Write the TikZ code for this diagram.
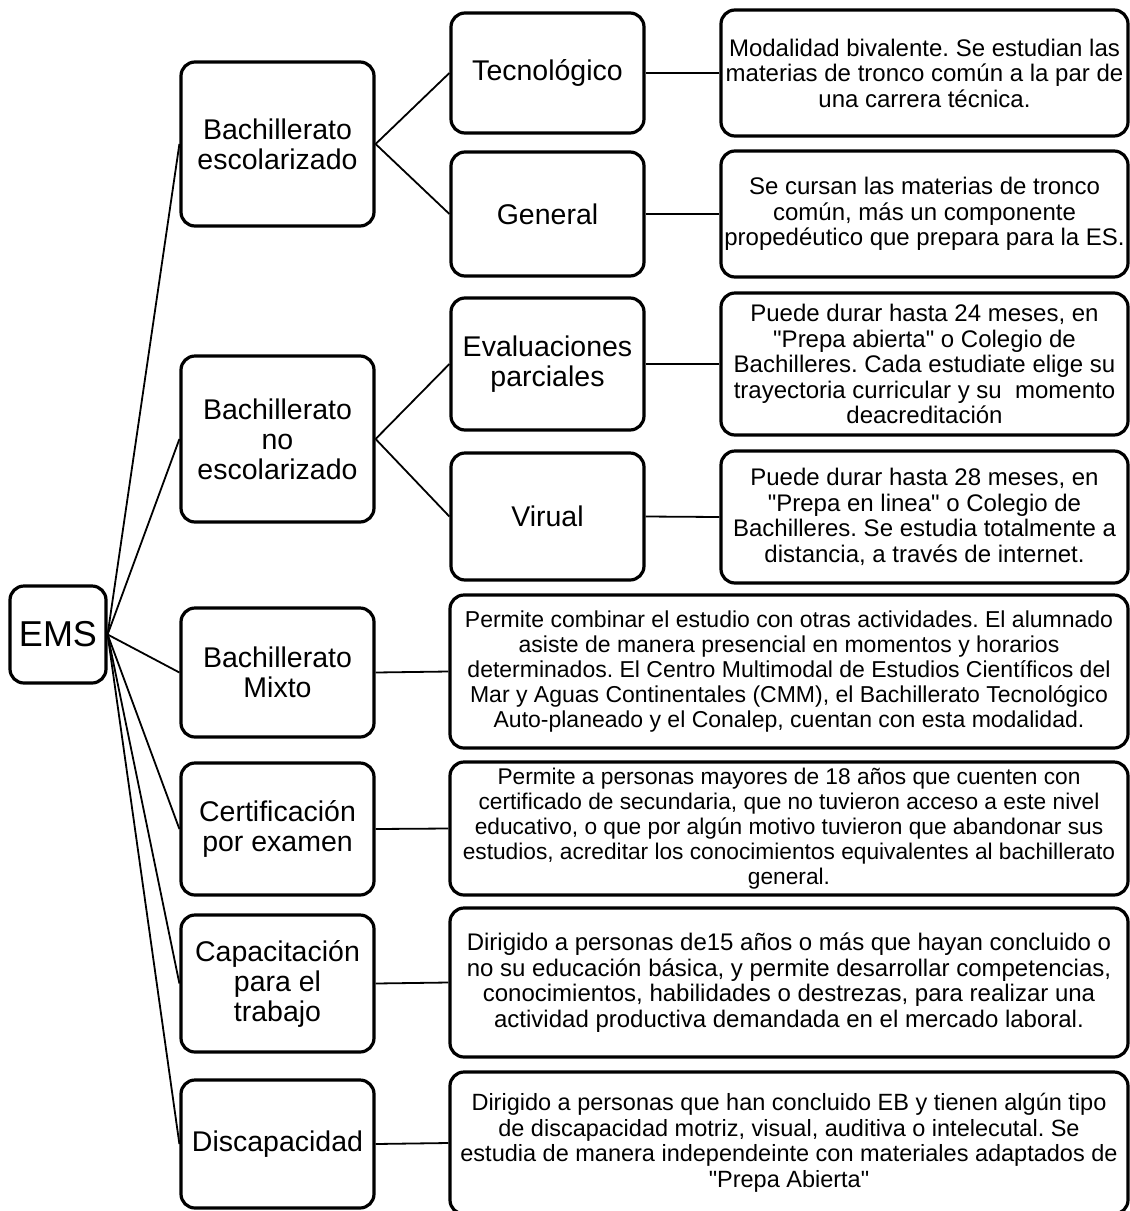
\documentclass[tikz,border=0pt]{standalone}
\usepackage{fontspec}
\setmainfont{Liberation Sans}[Ligatures=TeXOff]
\frenchspacing
\begin{document}
\begin{tikzpicture}[x=1pt,y=-1pt,
  box/.style={draw, line width=3.2pt, rounded corners=14pt, inner sep=0pt, align=center, rectangle},
  lvl/.style={box, minimum width=193pt, font=\fontsize{28.5}{30}\selectfont},
  desctop/.style={box, minimum width=407pt, font=\fontsize{24}{25.5}\selectfont},
  desclow/.style={box, minimum width=678pt, font=\fontsize{24}{25.5}\selectfont},
  link/.style={line width=1.8pt}]
\useasboundingbox (0,0) rectangle (1130,1211);

% root
\node[box, minimum width=96pt, minimum height=97pt, font=\fontsize{36}{40}\selectfont] (ems) at (58,634.5) {EMS};

% first level
\node[lvl, minimum height=164pt] (besc) at (277.5,144) {Bachillerato\\escolarizado};
\node[lvl, minimum height=166pt] (bnoesc) at (277.5,439) {Bachillerato\\no\\escolarizado};
\node[lvl, minimum height=129pt] (bmix) at (277.5,672.5) {Bachillerato\\Mixto};
\node[lvl, minimum height=132pt] (cert) at (277.5,829) {Certificación\\por examen};
\node[lvl, minimum height=137pt] (cap) at (277.5,983.5) {Capacitación\\para el\\trabajo};
\node[lvl, minimum height=128pt] (disc) at (277.5,1144) {Discapacidad};

% second level
\node[lvl, minimum height=120pt] (tec) at (547.5,73) {Tecnológico};
\node[lvl, minimum height=124pt] (gen) at (547.5,214) {General};
\node[lvl, minimum height=132pt] (eval) at (547.5,364) {Evaluaciones\\parciales};
\node[lvl, minimum height=127pt] (vir) at (547.5,516.5) {Virual};

% descriptions
\node[desctop, minimum height=126pt] (dtec) at (924.5,73)
  {Modalidad bivalente. Se estudian las\\materias de tronco común a la par de\\una carrera técnica.};
\node[desctop, minimum height=126pt] (dgen) at (924.5,214)
  {Se cursan las materias de tronco\\común, más un componente\\propedéutico que prepara para la ES.};
\node[desctop, minimum height=142pt] (deval) at (924.5,364)
  {Puede durar hasta 24 meses, en\\"Prepa abierta" o Colegio de\\Bachilleres. Cada estudiate elige su\\trayectoria curricular y su~ momento\\deacreditación};
\node[desctop, minimum height=132pt] (dvir) at (924.5,517)
  {Puede durar hasta 28 meses, en\\"Prepa en linea" o Colegio de\\Bachilleres. Se estudia totalmente a\\distancia, a través de internet.};
\node[desclow, minimum height=153pt, font=\fontsize{23}{25}\selectfont] (dmix) at (789,671.5)
  {Permite combinar el estudio con otras actividades. El alumnado\\asiste de manera presencial en momentos y horarios\\determinados. El Centro Multimodal de Estudios Científicos del\\Mar y Aguas Continentales (CMM), el Bachillerato Tecnológico\\Auto-planeado y el Conalep, cuentan con esta modalidad.};
\node[desclow, minimum height=133pt, font=\fontsize{22.7}{25}\selectfont] (dcert) at (789,828.5)
  {Permite a personas mayores de 18 años que cuenten con\\certificado de secundaria, que no tuvieron acceso a este nivel\\educativo, o que por algún motivo tuvieron que abandonar sus\\estudios, acreditar los conocimientos equivalentes al bachillerato\\general.};
\node[desclow, minimum height=149pt] (dcap) at (789,982.5)
  {Dirigido a personas de15 años o más que hayan concluido o\\no su educación básica, y permite desarrollar competencias,\\conocimientos, habilidades o destrezas, para realizar una\\actividad productiva demandada en el mercado laboral.};
\node[desclow, minimum height=142pt, font=\fontsize{23.5}{25.5}\selectfont] (ddisc) at (789,1143)
  {Dirigido a personas que han concluido EB y tienen algún tipo\\de discapacidad motriz, visual, auditiva o intelecutal. Se\\estudia de manera independeinte con materiales adaptados de\\"Prepa Abierta"};

% connectors
\foreach \n in {besc,bnoesc,bmix,cert,cap,disc}
  \draw[link] (ems.east) -- (\n.west);
\draw[link] (besc.east) -- (tec.west);
\draw[link] (besc.east) -- (gen.west);
\draw[link] (bnoesc.east) -- (eval.west);
\draw[link] (bnoesc.east) -- (vir.west);
\draw[link] (tec.east) -- (dtec.west);
\draw[link] (gen.east) -- (dgen.west);
\draw[link] (eval.east) -- (deval.west);
\draw[link] (vir.east) -- (dvir.west);
\draw[link] (bmix.east) -- (dmix.west);
\draw[link] (cert.east) -- (dcert.west);
\draw[link] (cap.east) -- (dcap.west);
\draw[link] (disc.east) -- (ddisc.west);
\end{tikzpicture}
\end{document}
